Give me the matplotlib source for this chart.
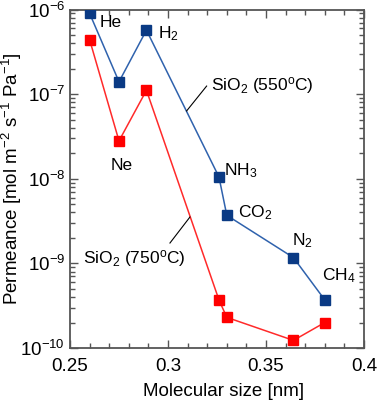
import numpy as np
import matplotlib.pyplot as plt

plt.rcParams['font.family'] = 'Liberation Sans'
plt.rcParams['mathtext.fontset'] = 'custom'
plt.rcParams['mathtext.rm'] = 'Liberation Sans'
plt.rcParams['mathtext.it'] = 'Liberation Sans:italic'
plt.rcParams['font.size'] = 12.5

# molecular size [nm]: He, Ne, H2, NH3, CO2, N2, CH4
size = [0.260, 0.275, 0.289, 0.326, 0.330, 0.364, 0.380]
perm_550 = [9.0e-7, 1.40e-7, 5.7e-7, 1.05e-8, 3.7e-9, 1.17e-9, 3.7e-10]
perm_750 = [4.4e-7, 2.8e-8, 1.11e-7, 3.7e-10, 2.3e-10, 1.23e-10, 2.0e-10]
gas_labels = ['He', 'Ne', 'H$_2$', 'NH$_3$', 'CO$_2$', 'N$_2$', 'CH$_4$']

fig = plt.figure(figsize=(3.81, 4.05), dpi=100)
ax = fig.add_axes([70/381, 1 - 348/405, 294/381, 338.5/405])

ax.plot(size, perm_550, '-', color='#2f62ad', lw=1.1, zorder=2)
ax.plot(size, perm_550, 's', color='#0a3a84', ms=7.5, mec='#0a3a84', zorder=3)
ax.plot(size, perm_750, '-', color='#ff2a2a', lw=1.1, zorder=2)
ax.plot(size, perm_750, 's', color='#ff0000', ms=7.5, mec='#ff0000', zorder=3)

ax.set_yscale('log')
ax.set_xlim(0.25, 0.4)
ax.set_ylim(1e-10, 1e-6)
ax.set_xticks([0.25, 0.3, 0.35, 0.4])
ax.set_xticklabels(['0.25', '0.3', '0.35', '0.4'])
ax.set_xticks(np.arange(0.25, 0.4001, 0.01), minor=True)
ax.tick_params(which='both', direction='in', top=True, right=True, width=1,
               colors='#555555', labelcolor='black', labelsize=13.5)
ax.tick_params(which='major', length=6)
ax.tick_params(which='minor', length=3.5)
ax.tick_params(axis='x', which='major', pad=7)
ax.tick_params(axis='y', which='major', pad=3.5)
for s in ax.spines.values():
    s.set_color('#555555')
    s.set_linewidth(1.3)

ax.set_xlabel('Molecular size [nm]', fontsize=13.5)
ax.xaxis.set_label_coords(0.524, -0.104)
ax.set_ylabel('Permeance [mol m$^{-2}$ s$^{-1}$ Pa$^{-1}$]', fontsize=13.5, va='center')
ax.yaxis.set_label_coords(-0.198, 0.5)

# gas labels (baseline positions in data coords)
lab_pos = [(0.2653, 6.2e-7), (0.2709, 1.26e-8), (0.2949, 4.56e-7), (0.3287, 1.1e-8),
           (0.3359, 3.53e-9), (0.3631, 1.63e-9), (0.3784, 6.3e-10)]
for (x, y), t in zip(lab_pos, gas_labels):
    ax.text(x, y, t, ha='left', va='baseline', fontsize=12.5)

ax.text(0.3218, 1.11e-7, 'SiO$_2$ (550$^{\\mathrm{o}}$C)', ha='left', va='baseline', fontsize=12.5)
ax.plot([0.3197, 0.3095], [1.245e-7, 6.33e-8], color='black', lw=0.8)
ax.text(0.2568, 9.9e-10, 'SiO$_2$ (750$^{\\mathrm{o}}$C)', ha='left', va='baseline', fontsize=12.5)
ax.plot([0.3010, 0.3112], [1.74e-9, 3.53e-9], color='black', lw=0.8)

fig.savefig('out.png', dpi=100)
